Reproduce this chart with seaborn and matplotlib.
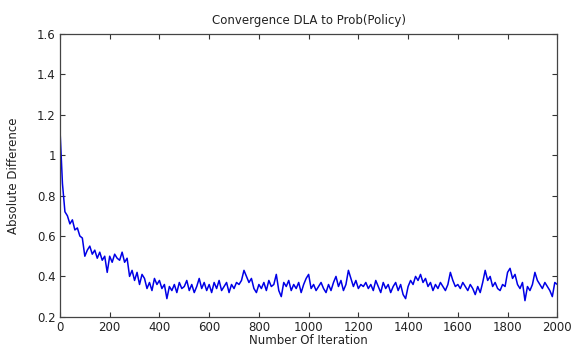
import numpy as np
import pandas as pd
import matplotlib
matplotlib.use("Agg")
import matplotlib.pyplot as plt
import matplotlib.ticker as mticker
import seaborn as sns

# iteration steps (every 10 iterations) and the absolute difference
iterations = np.arange(0, 2001, 10)
abs_diff = [
    1.13, 0.86, 0.72, 0.70, 0.66, 0.68, 0.63, 0.64, 0.60, 0.59,
    0.50, 0.53, 0.55, 0.51, 0.53, 0.49, 0.52, 0.48, 0.50, 0.42,
    0.50, 0.47, 0.51, 0.49, 0.48, 0.52, 0.47, 0.49, 0.40, 0.43,
    0.38, 0.42, 0.36, 0.41, 0.39, 0.34, 0.37, 0.33, 0.39, 0.36,
    0.38, 0.34, 0.36, 0.29, 0.35, 0.33, 0.36, 0.32, 0.37, 0.34,
    0.35, 0.38, 0.33, 0.36, 0.32, 0.35, 0.39, 0.34, 0.37, 0.33,
    0.36, 0.32, 0.37, 0.34, 0.38, 0.33, 0.35, 0.37, 0.32, 0.36,
    0.34, 0.37, 0.36, 0.38, 0.43, 0.40, 0.37, 0.39, 0.34, 0.32,
    0.36, 0.34, 0.37, 0.33, 0.38, 0.35, 0.36, 0.41, 0.33, 0.30,
    0.37, 0.35, 0.38, 0.33, 0.36, 0.34, 0.37, 0.32, 0.36, 0.39,
    0.41, 0.34, 0.36, 0.33, 0.35, 0.37, 0.34, 0.32, 0.36, 0.33,
    0.37, 0.40, 0.35, 0.38, 0.33, 0.36, 0.43, 0.39, 0.35, 0.38,
    0.34, 0.36, 0.35, 0.37, 0.34, 0.36, 0.33, 0.38, 0.35, 0.32,
    0.37, 0.34, 0.36, 0.32, 0.35, 0.37, 0.33, 0.36, 0.31, 0.29,
    0.35, 0.38, 0.36, 0.40, 0.38, 0.41, 0.37, 0.39, 0.35, 0.37,
    0.33, 0.36, 0.34, 0.37, 0.35, 0.33, 0.36, 0.42, 0.38, 0.35,
    0.36, 0.34, 0.37, 0.35, 0.33, 0.36, 0.34, 0.31, 0.35, 0.32,
    0.37, 0.43, 0.38, 0.40, 0.35, 0.37, 0.34, 0.33, 0.36, 0.35,
    0.42, 0.44, 0.39, 0.41, 0.36, 0.34, 0.37, 0.28, 0.35, 0.33,
    0.36, 0.42, 0.38, 0.36, 0.34, 0.37, 0.35, 0.33, 0.30, 0.37,
    0.36,
]
x_ticks = list(range(0, 2001, 200))
y_ticks = [0.2, 0.4, 0.6, 0.8, 1.0, 1.2, 1.4, 1.6]

df = pd.DataFrame({"Iteration": iterations, "AbsDiff": abs_diff})

sns.set_theme(style="white")
plt.rcParams["font.family"] = ["DejaVu Sans"]

fig = plt.figure(figsize=(5.71, 3.47), dpi=100)
ax = fig.add_axes([0.105, 0.087, 0.871, 0.815])

sns.lineplot(data=df, x="Iteration", y="AbsDiff", ax=ax,
             color="#0000e6", linewidth=1.1)

ax.set_xlim(0, 2000)
ax.set_ylim(0.2, 1.6)
ax.set_xticks(x_ticks)
ax.set_yticks(y_ticks)
ax.yaxis.set_major_formatter(mticker.FormatStrFormatter("%g"))
ax.tick_params(direction="in", length=3.5, width=0.8, color="#333333",
               labelsize=8.5, labelcolor="#222222", top=True, right=True,
               bottom=True, left=True, pad=3)
for sp in ax.spines.values():
    sp.set_color("#444444")
    sp.set_linewidth(0.9)

ax.set_title("Convergence DLA to Prob(Policy)", fontsize=8.5, color="#222222", pad=7)
ax.set_xlabel("Number Of Iteration", fontsize=8.5, color="#222222", labelpad=0)
ax.set_ylabel("Absolute Difference", fontsize=8.5, color="#222222", labelpad=12)

fig.savefig("out.png", dpi=100)
